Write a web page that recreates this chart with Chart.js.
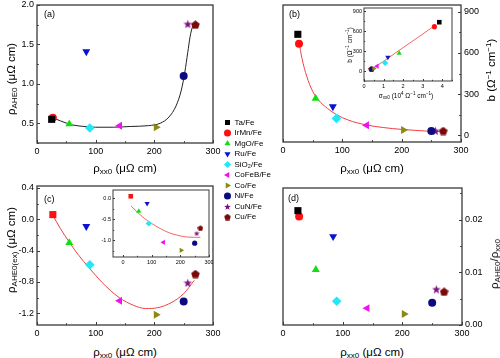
<!DOCTYPE html>
<html>
<head>
<meta charset="utf-8">
<script src="https://cdn.jsdelivr.net/npm/chart.js@4.4.1/dist/chart.umd.min.js"></script>
<style>
  body { margin: 0; background: #fff; }
  #wrap { position: relative; width: 500px; height: 358px; background: #fff; overflow: hidden;
          font-family: 'Liberation Sans', Arial, sans-serif; color: #000; }
  canvas { position: absolute; }
  .t { position: absolute; white-space: nowrap; transform: translate(-50%, -50%); font-size: 11.5px; }
  .r { transform: translate(-50%, -50%) rotate(-90deg); }
  .t sub { font-size: 70%; vertical-align: -0.3em; line-height: 0; }
  .t sup { font-size: 70%; vertical-align: 0.5em; line-height: 0; }
  .lab { position: absolute; font-size: 9px; }
  .small { font-size: 6.5px; }
</style>
</head>
<body>
<div id="wrap">
  <canvas id="pa" width="222" height="158" style="left:0;top:0"></canvas>
  <canvas id="pb" width="215" height="158" style="left:270px;top:0"></canvas>
  <canvas id="pbi" width="112" height="90" style="left:345px;top:4px"></canvas>
  <canvas id="pc" width="222" height="160" style="left:0;top:181px"></canvas>
  <canvas id="pci" width="118" height="82" style="left:95px;top:186px"></canvas>
  <canvas id="pd" width="222" height="158" style="left:270px;top:183px"></canvas>
  <canvas id="leg" width="130" height="125" style="left:222px;top:116px"></canvas>

  <div class="lab" style="left:44px;top:9px">(a)</div>
  <div class="lab" style="left:289px;top:9px">(b)</div>
  <div class="lab" style="left:44px;top:194px">(c)</div>
  <div class="lab" style="left:288px;top:193px">(d)</div>

  <div class="t r" style="left:11px;top:79px">ρ<sub>AHE0</sub> (μΩ cm)</div>
  <div class="t" style="left:125px;top:168px">ρ<sub>xx0</sub> (μΩ cm)</div>
  <div class="t" style="left:372px;top:168px">ρ<sub>xx0</sub> (μΩ cm)</div>
  <div class="t r" style="left:491px;top:70px">b (Ω<sup>−1</sup> cm<sup>−1</sup>)</div>
  <div class="t r" style="left:11px;top:250px">ρ<sub>AHE0(ex)</sub> (μΩ cm)</div>
  <div class="t" style="left:125px;top:352px">ρ<sub>xx0</sub> (μΩ cm)</div>
  <div class="t" style="left:372px;top:352px">ρ<sub>xx0</sub> (μΩ cm)</div>
  <div class="t r" style="left:494px;top:264px">ρ<sub>AHE0</sub>/ρ<sub>xx0</sub></div>
  <div class="t small" style="left:406px;top:95px">σ<sub>xx0</sub> (10<sup>4</sup> Ω<sup>−1</sup> cm<sup>−1</sup>)</div>
  <div class="t r small" style="left:349px;top:45px">b (Ω<sup>−1</sup> cm<sup>−1</sup>)</div>
</div>

<script>
const FONT = "'Liberation Sans', Arial, sans-serif";

// materials and their markers
const materials = ['Ta/Fe', 'IrMn/Fe', 'MgO/Fe', 'Ru/Fe', 'SiO₂/Fe', 'CoFeB/Fe', 'Co/Fe', 'Ni/Fe', 'CuN/Fe', 'Cu/Fe'];
const markerColors = ['#000000', '#ff1010', '#10e010', '#0a14d0', '#20e8f8', '#f010f0', '#8a8a10', '#0c0c80', '#801080', '#7a0a0a'];
const markerShapes = ['rect', 'circle', 'triangle', 'triangle', 'rectRot', 'triangle', 'triangle', 'circle', 'star', 'pentagon'];
const markerRotation = [0, 0, 0, 180, 0, 270, 90, 0, 0, 0];

// data
const rhoXX0 = [25, 27, 55, 84, 90, 141, 203, 250, 257, 270];
const rhoAHE0 = [0.55, 0.57, 0.49, 1.41, 0.44, 0.47, 0.45, 1.10, 1.76, 1.75];
const bValues = [736, 668, 268, 208, 122, 73, 38, 30, 32, 30];
const sigmaXX0 = [3.85, 3.6, 1.8, 1.22, 1.08, 0.67, 0.5, 0.4, 0.39, 0.37];
const rhoAHE0ex = [null, 0.06, -0.30, -0.09, -0.58, -1.04, -1.22, -1.05, -0.81, -0.70];
const rhoAHE0exInset = [null, 0.05, -0.31, -0.12, -0.60, -1.05, -1.24, -1.07, -0.83, -0.71];
const ratioAHE = [0.0217, 0.0206, 0.0105, 0.0168, 0.0045, 0.0032, 0.0021, 0.0042, 0.0068, 0.0063];

// fitted curves
const fitAx = [27, 40, 60, 80, 100, 130, 160, 190, 210, 225, 237, 246, 252, 257, 261, 265, 270];
const fitAy = [0.57, 0.53, 0.48, 0.46, 0.45, 0.45, 0.46, 0.47, 0.50, 0.58, 0.72, 0.92, 1.15, 1.40, 1.60, 1.72, 1.76];
const fitBx = [27, 32, 40, 50, 60, 75, 90, 110, 140, 170, 200, 240, 270];
const fitBy = [680, 560, 430, 320, 255, 195, 150, 110, 75, 55, 42, 30, 25];
const fitBix = [0.4, 3.6];
const fitBiy = [25, 680];
const fitCx = [27, 40, 54, 70, 90, 110, 140, 165, 185, 205, 230, 250, 268];
const fitCy = [0.05, -0.12, -0.28, -0.45, -0.63, -0.80, -1.0, -1.10, -1.14, -1.13, -1.06, -0.95, -0.78];
const fitCix = [28, 50, 75, 100, 130, 160, 190, 220, 250, 270];
const fitCiy = [-0.18, -0.33, -0.48, -0.60, -0.72, -0.82, -0.88, -0.92, -0.93, -0.93];

// tick labels
const ticksRho = [0, 100, 200, 300];
const ticksA = [0.5, 1.0, 1.5, 2.0];
const ticksB = [0, 300, 600, 900];
const ticksBiX = [0, 1, 2, 3, 4];
const ticksC = [-1.2, -0.8, -0.4, 0.0, 0.4];
const ticksCi = [-1.0, -0.5, 0.0];
const ticksD = [0.00, 0.01, 0.02];

function shapeImage(kind, color, size) {
  const c = document.createElement('canvas');
  c.width = c.height = size;
  const g = c.getContext('2d');
  const R = size / 2;
  const n = kind === 'star' ? 10 : 5;
  g.fillStyle = color;
  g.beginPath();
  for (let i = 0; i < n; i++) {
    const a = -Math.PI / 2 + i * 2 * Math.PI / n;
    const r = kind === 'star' && i % 2 ? R * 0.42 : R;
    g.lineTo(R + r * Math.cos(a), R + r * Math.sin(a) + (kind === 'star' ? 0.5 : 0.3));
  }
  g.closePath();
  g.fill();
  return c;
}

const baseRadius = { rect: 5, circle: 4, triangle: 4.6, rectRot: 4.8 };

function markerSets(xs, ys, k, rectForIrMn) {
  return materials.map((name, i) => {
    let shape = markerShapes[i];
    if (rectForIrMn && i === 1) shape = 'rect';
    const img = shape === 'star' || shape === 'pentagon';
    return {
      type: 'scatter',
      label: name,
      data: ys[i] == null ? [] : [{ x: xs[i], y: ys[i] }],
      pointStyle: img ? shapeImage(shape, markerColors[i], Math.round(9 * k)) : shape,
      pointRadius: img ? 4 : baseRadius[shape] * k,
      pointRotation: markerRotation[i],
      backgroundColor: markerColors[i],
      borderColor: markerColors[i],
      pointBorderWidth: 0,
      clip: false
    };
  });
}

function fitLine(xs, ys, color, w) {
  return {
    type: 'line',
    data: xs.map((x, i) => ({ x: x, y: ys[i] })),
    borderColor: color,
    borderWidth: w,
    pointRadius: 0,
    fill: false,
    cubicInterpolationMode: 'monotone'
  };
}

function axis(pos, min, max, ticks, size, font, fmt) {
  return {
    type: 'linear',
    position: pos,
    min: min,
    max: max,
    grid: { display: false, drawTicks: false },
    border: { display: false },
    ticks: { font: { size: font, family: FONT }, color: '#000', padding: font > 7 ? 3 : 2,
             autoSkip: false, maxRotation: 0, callback: fmt },
    afterBuildTicks: s => { s.ticks = ticks.map(v => ({ value: v })); },
    afterFit: s => {
      if (pos === 'bottom') s.height = size; else s.width = size;
      s.paddingLeft = s.paddingRight = s.paddingTop = s.paddingBottom = 0;
    }
  };
}

const framePlugin = {
  id: 'frame',
  beforeDatasetsDraw(chart, args, opts) {
    const ctx = chart.ctx, a = chart.chartArea;
    ctx.save();
    if (opts.fill) {
      ctx.fillStyle = '#fff';
      ctx.fillRect(a.left, a.top, a.right - a.left, a.bottom - a.top);
    }
    ctx.strokeStyle = '#3a3a3a';
    ctx.lineWidth = opts.lw;
    ctx.strokeRect(a.left, a.top, a.right - a.left, a.bottom - a.top);
    ctx.lineWidth = 1;
    const len = opts.tick;
    Object.values(chart.scales).forEach(s => {
      const vals = s.ticks.map(t => t.value);
      const step = vals[1] - vals[0];
      const minors = [vals[0] - step / 2];
      vals.forEach(v => minors.push(v + step / 2));
      const draw = (v, L) => {
        if (v < s.min - 1e-9 || v > s.max + 1e-9) return;
        const p = Math.round(s.getPixelForValue(v)) + 0.5;
        ctx.beginPath();
        if (s.isHorizontal()) { ctx.moveTo(p, a.bottom); ctx.lineTo(p, a.bottom - L); }
        else if (s.position === 'left') { ctx.moveTo(a.left, p); ctx.lineTo(a.left + L, p); }
        else { ctx.moveTo(a.right, p); ctx.lineTo(a.right - L, p); }
        ctx.stroke();
      };
      vals.forEach(v => draw(v, len));
      minors.forEach(v => draw(v, len * 0.6));
    });
    ctx.restore();
  }
};

function panel(id, datasets, scales, padding, frame) {
  return new Chart(document.getElementById(id), {
    type: 'scatter',
    data: { datasets: datasets },
    options: {
      responsive: false,
      animation: false,
      devicePixelRatio: 1,
      layout: { padding: padding },
      plugins: { legend: { display: false }, tooltip: { enabled: false }, frame: frame },
      scales: scales
    },
    plugins: [framePlugin]
  });
}

const f0 = v => String(v);
const f1 = v => v.toFixed(1);
const f2 = v => v.toFixed(2);

// (a)
panel('pa',
  [...markerSets(rhoXX0, rhoAHE0, 1), fitLine(fitAx, fitAy, '#222', 1)],
  { x: axis('bottom', 0, 300, ticksRho, 15, 9, f0), y: axis('left', 0.25, 2.0, ticksA, 37, 9, f1) },
  { top: 4, right: 9, left: 0, bottom: 0 },
  { lw: 1.3, tick: 3 });

// (b)
panel('pb',
  [...markerSets(rhoXX0, bValues, 1), fitLine(fitBx, fitBy, '#f04040', 1)],
  { x: axis('bottom', 0, 300, ticksRho, 16, 9, f0), y: axis('right', -50, 950, ticksB, 24, 9, f0) },
  { top: 3, right: 0, left: 13, bottom: 0 },
  { lw: 1.3, tick: 3 });

// (b) inset
panel('pbi',
  [...markerSets(sigmaXX0, bValues, 0.65), fitLine(fitBix, fitBiy, '#f04040', 0.8)],
  { x: axis('bottom', 0, 4.5, ticksBiX, 13, 5.5, f0), y: axis('left', -150, 950, ticksB, 19, 5.5, f0) },
  { top: 4, right: 5, left: 0, bottom: 0 },
  { lw: 1, tick: 2, fill: true });

// (c)
panel('pc',
  [...markerSets(rhoXX0, rhoAHE0ex, 1, true), fitLine(fitCx, fitCy, '#f04040', 1)],
  { x: axis('bottom', 0, 300, ticksRho, 16, 9, f0), y: axis('left', -1.35, 0.425, ticksC, 37, 9, f1) },
  { top: 4, right: 9, left: 0, bottom: 0 },
  { lw: 1.3, tick: 3 });

// (c) inset
panel('pci',
  [...markerSets(rhoXX0, rhoAHE0exInset, 0.65, true), fitLine(fitCix, fitCiy, '#f04040', 0.8)],
  { x: axis('bottom', -35, 300, ticksRho, 11, 5.5, f0), y: axis('left', -1.4, 0.2, ticksCi, 18, 5.5, f1) },
  { top: 4, right: 4, left: 0, bottom: 0 },
  { lw: 1, tick: 2, fill: true });

// (d)
panel('pd',
  markerSets(rhoXX0, ratioAHE, 1),
  { x: axis('bottom', 0, 300, ticksRho, 16, 9, f0), y: axis('right', 0, 0.026, ticksD, 30, 9, f2) },
  { top: 4, right: 0, left: 13, bottom: 0 },
  { lw: 1.3, tick: 3 });

// legend
new Chart(document.getElementById('leg'), {
  type: 'scatter',
  data: { datasets: markerSets(rhoXX0, materials.map(() => null), 0.8) },
  options: {
    responsive: false,
    animation: false,
    devicePixelRatio: 1,
    layout: { padding: 0 },
    scales: { x: { display: false }, y: { display: false } },
    plugins: {
      tooltip: { enabled: false },
      legend: {
        position: 'left',
        align: 'start',
        labels: { usePointStyle: true, boxWidth: 6, boxHeight: 5, padding: 2.5,
                  font: { size: 8, family: FONT }, color: '#000' }
      }
    }
  }
});
</script>
</body>
</html>
